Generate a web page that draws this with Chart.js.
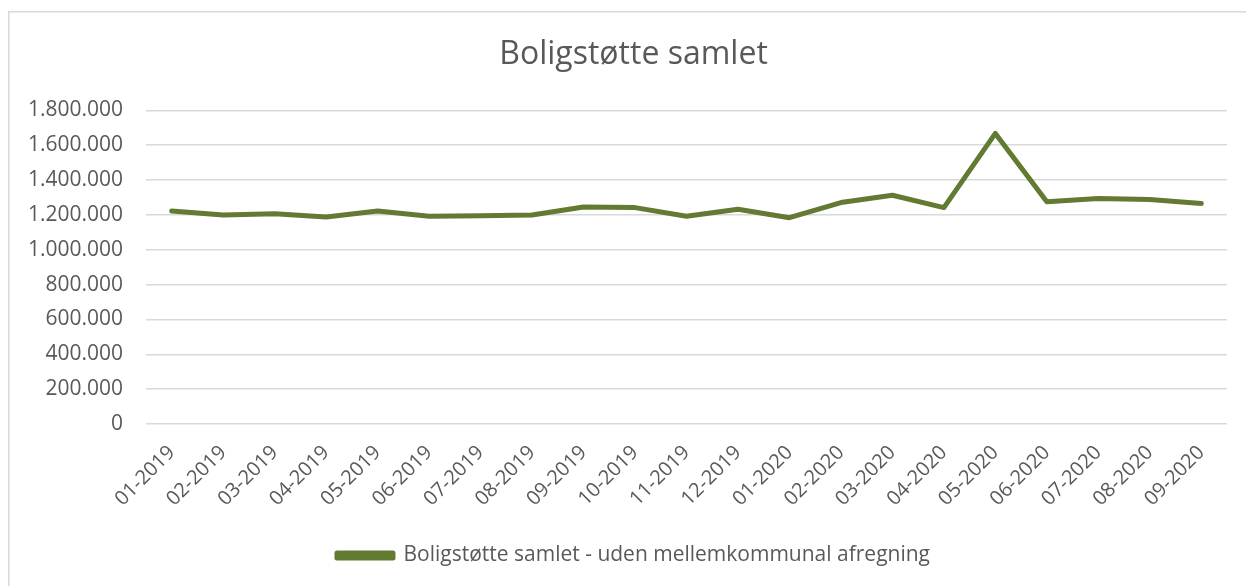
<!DOCTYPE html>
<html>
<head>
<meta charset="utf-8">
<script src="https://cdn.jsdelivr.net/npm/chart.js@4"></script>
<style>
  html, body { margin: 0; padding: 0; background: #ffffff; }
  #wrap { width: 1246px; height: 586px; position: relative; }
</style>
</head>
<body>
<div id="wrap"><canvas id="c" width="1246" height="586"></canvas></div>
<script>
const categories = ["01-2019","02-2019","03-2019","04-2019","05-2019","06-2019","07-2019","08-2019","09-2019","10-2019","11-2019","12-2019","01-2020","02-2020","03-2020","04-2020","05-2020","06-2020","07-2020","08-2020","09-2020"];
const boligstotteValues = [1223000,1200000,1207000,1188000,1223000,1192000,1195000,1200000,1246000,1242000,1192000,1233000,1184000,1271000,1313000,1242000,1668000,1275000,1294000,1288000,1265000];
const seriesName = "Boligstøtte samlet - uden mellemkommunal afregning";
const chartTitle = "Boligstøtte samlet";
const yMax = 1800000;
const yStep = 200000;

const FONT = "'Open Sans', 'DejaVu Sans', sans-serif";
const TEXT = "#595959";
const GREEN = "#637a32";

function fmt(v) {
  return String(v).replace(/\B(?=(\d{3})+(?!\d))/g, ".");
}

const borderPlugin = {
  id: 'outerBorder',
  beforeDraw(chart) {
    const ctx = chart.ctx;
    ctx.save();
    ctx.fillStyle = '#ffffff';
    ctx.fillRect(0, 0, chart.width, chart.height);
    ctx.strokeStyle = '#d9d9d9';
    ctx.lineWidth = 1.5;
    ctx.strokeRect(8.75, 11.75, chart.width + 20, chart.height + 20);
    ctx.restore();
  }
};

// Centre title and legend on the whole chart frame (as in the original) rather than on the padded layout box
const shiftPlugin = {
  id: 'shiftBlocks',
  afterLayout(chart) {
    const dx = 20;
    if (chart.titleBlock) { chart.titleBlock.left += dx; chart.titleBlock.right += dx; }
    if (chart.legend) { chart.legend.left += dx; chart.legend.right += dx; }
  }
};

new Chart(document.getElementById('c'), {
  type: 'line',
  data: {
    labels: categories,
    datasets: [{
      label: seriesName,
      data: boligstotteValues,
      borderColor: GREEN,
      backgroundColor: GREEN,
      borderWidth: 5,
      pointRadius: 0,
      pointHoverRadius: 0,
      tension: 0,
      borderCapStyle: 'round',
      borderJoinStyle: 'round'
    }]
  },
  options: {
    responsive: false,
    animation: false,
    devicePixelRatio: 1,
    layout: { padding: { top: 0, left: 0, right: 19, bottom: 10 } },
    plugins: {
      title: {
        display: true,
        text: chartTitle,
        color: TEXT,
        font: { family: FONT, size: 32, weight: 'normal' },
        padding: { top: 36, bottom: 36 }
      },
      legend: {
        position: 'bottom',
        labels: {
          color: TEXT,
          font: { family: FONT, size: 21 },
          boxWidth: 56,
          boxHeight: 5,
          padding: 10
        }
      },
      tooltip: { enabled: false }
    },
    scales: {
      x: {
        offset: true,
        grid: { display: false },
        border: { display: false },
        ticks: {
          color: TEXT,
          font: { family: FONT, size: 20 },
          minRotation: 45,
          maxRotation: 45,
          autoSkip: false,
          padding: 9,
          labelOffset: 0
        },
        afterFit(scale) { scale.height = 111; }
      },
      y: {
        min: 0,
        max: yMax,
        grid: { color: '#d9d9d9', lineWidth: 1.5, drawTicks: false },
        border: { display: false },
        ticks: {
          stepSize: yStep,
          color: TEXT,
          font: { family: FONT, size: 21 },
          padding: 23,
          callback: (v) => fmt(v)
        },
        afterFit(scale) { scale.width = 146; }
      }
    }
  },
  plugins: [borderPlugin, shiftPlugin]
});
</script>
</body>
</html>
